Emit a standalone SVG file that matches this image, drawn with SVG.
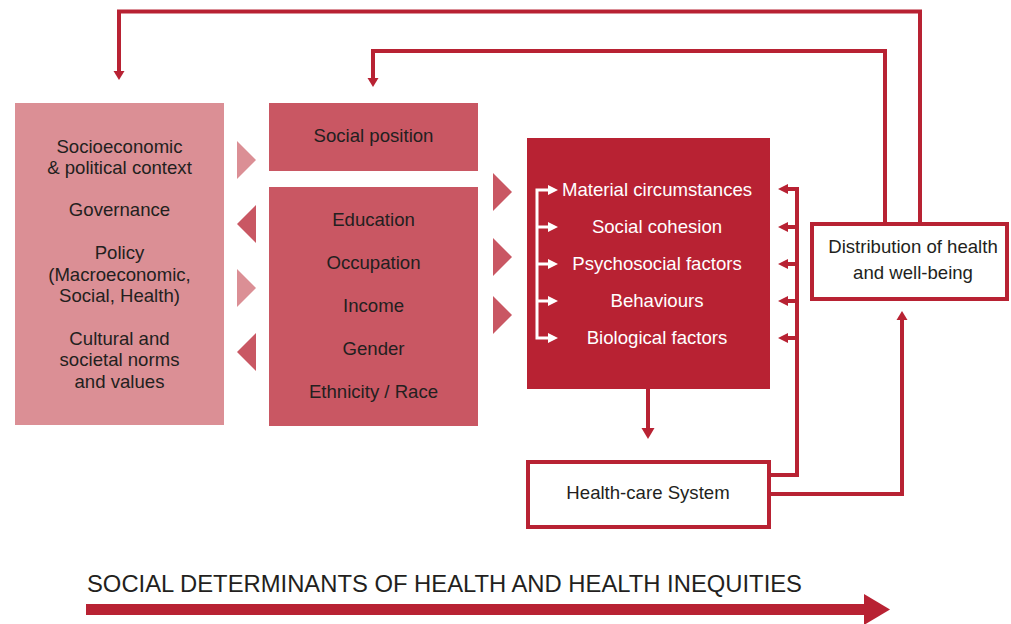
<svg xmlns="http://www.w3.org/2000/svg" width="1011" height="624" viewBox="0 0 1011 624">
<style>
.t{font-family:"Liberation Sans",Arial,sans-serif;font-size:18.6px;fill:#231f20;text-anchor:middle}
.w{fill:#ffffff}
.ln{fill:none;stroke:#b82233;stroke-width:4}
.wl{fill:none;stroke:#ffffff;stroke-width:3}
.hd{fill:#b82233}
.whd{fill:#ffffff}
.lt{fill:#db8f95}
.md{fill:#c95763}
.dk{fill:#b82233}
</style>
<rect width="1011" height="624" fill="#ffffff"/>
<g id="context">
<rect x="15" y="103" width="209" height="322" class="lt"/>
<text class="t" x="119.5" y="153">Socioeconomic</text>
<text class="t" x="119.5" y="174">&amp; political context</text>
<text class="t" x="119.5" y="216">Governance</text>
<text class="t" x="119.5" y="259">Policy</text>
<text class="t" x="119.5" y="281">(Macroeconomic,</text>
<text class="t" x="119.5" y="302">Social, Health)</text>
<text class="t" x="119.5" y="345">Cultural and</text>
<text class="t" x="119.5" y="366">societal norms</text>
<text class="t" x="119.5" y="388">and values</text>
</g>
<g id="social-position">
<rect x="269" y="103" width="209" height="68" class="md"/>
<text class="t" x="373.5" y="142">Social position</text>
</g>
<g id="stratifiers">
<rect x="269" y="187" width="209" height="239" class="md"/>
<text class="t" x="373.5" y="226">Education</text>
<text class="t" x="373.5" y="269">Occupation</text>
<text class="t" x="373.5" y="312">Income</text>
<text class="t" x="373.5" y="355">Gender</text>
<text class="t" x="373.5" y="398">Ethnicity / Race</text>
</g>
<g id="intermediary">
<rect x="527" y="138" width="243" height="251" class="dk"/>
<text class="t w" x="657" y="196">Material circumstances</text>
<text class="t w" x="657" y="233">Social cohesion</text>
<text class="t w" x="657" y="270">Psychosocial factors</text>
<text class="t w" x="657" y="307">Behaviours</text>
<text class="t w" x="657" y="344">Biological factors</text>
</g>
<g id="health-care">
<rect x="528" y="462" width="241" height="65" fill="#ffffff" stroke="#b82233" stroke-width="4"/>
<text class="t" x="648" y="499">Health-care System</text>
</g>
<g id="distribution">
<rect x="812" y="224" width="195" height="75" fill="#ffffff" stroke="#b82233" stroke-width="4"/>
<text class="t" x="913" y="253">Distribution of health</text>
<text class="t" x="913" y="279">and well-being</text>
</g>
<g id="connectors">
<polygon class="lt" points="237,141 256,160 237,179"/>
<polygon class="md" points="256,205 237,224 256,243"/>
<polygon class="lt" points="237,269 256,288 237,307"/>
<polygon class="md" points="256,333 237,352 256,371"/>
<polygon class="md" points="493,173 512,192 493,211"/>
<polygon class="md" points="493,238 512,257 493,276"/>
<polygon class="md" points="493,296 512,315 493,334"/>
<path class="ln" d="M920,222 V11.5 H119 V72"/>
<polygon class="hd" points="113.5,71 124.5,71 119,80"/>
<path class="ln" d="M885,222 V51 H373 V79"/>
<polygon class="hd" points="367.5,78 378.5,78 373,87"/>
<path class="wl" d="M549,190 H537 V338 H549 M537,227 H549 M537,264 H549 M537,301 H549"/>
<polygon class="whd" points="548,185 558,190 548,195"/>
<polygon class="whd" points="548,222 558,227 548,232"/>
<polygon class="whd" points="548,259 558,264 548,269"/>
<polygon class="whd" points="548,296 558,301 548,306"/>
<polygon class="whd" points="548,333 558,338 548,343"/>
<path class="ln" d="M771,475 H797 V189 H786 M797,227 H786 M797,264 H786 M797,301 H786 M797,338 H786"/>
<polygon class="hd" points="788,184 778,189 788,194"/>
<polygon class="hd" points="788,222 778,227 788,232"/>
<polygon class="hd" points="788,259 778,264 788,269"/>
<polygon class="hd" points="788,296 778,301 788,306"/>
<polygon class="hd" points="788,333 778,338 788,343"/>
<path class="ln" d="M771,494 H902 V319"/>
<polygon class="hd" points="896.5,320 907.5,320 902,311"/>
<path class="ln" d="M648,389 V429"/>
<polygon class="hd" points="641.5,428 654.5,428 648,439"/>
</g>
<g id="axis">
<text x="87" y="592" font-family="'Liberation Sans',Arial,sans-serif" font-size="24" fill="#231f20" textLength="715" lengthAdjust="spacingAndGlyphs">SOCIAL DETERMINANTS OF HEALTH AND HEALTH INEQUITIES</text>
<rect x="86" y="604" width="780" height="11" fill="#b82233"/>
<polygon points="864,594 890,609.5 864,625" fill="#b82233"/>
</g>
</svg>
